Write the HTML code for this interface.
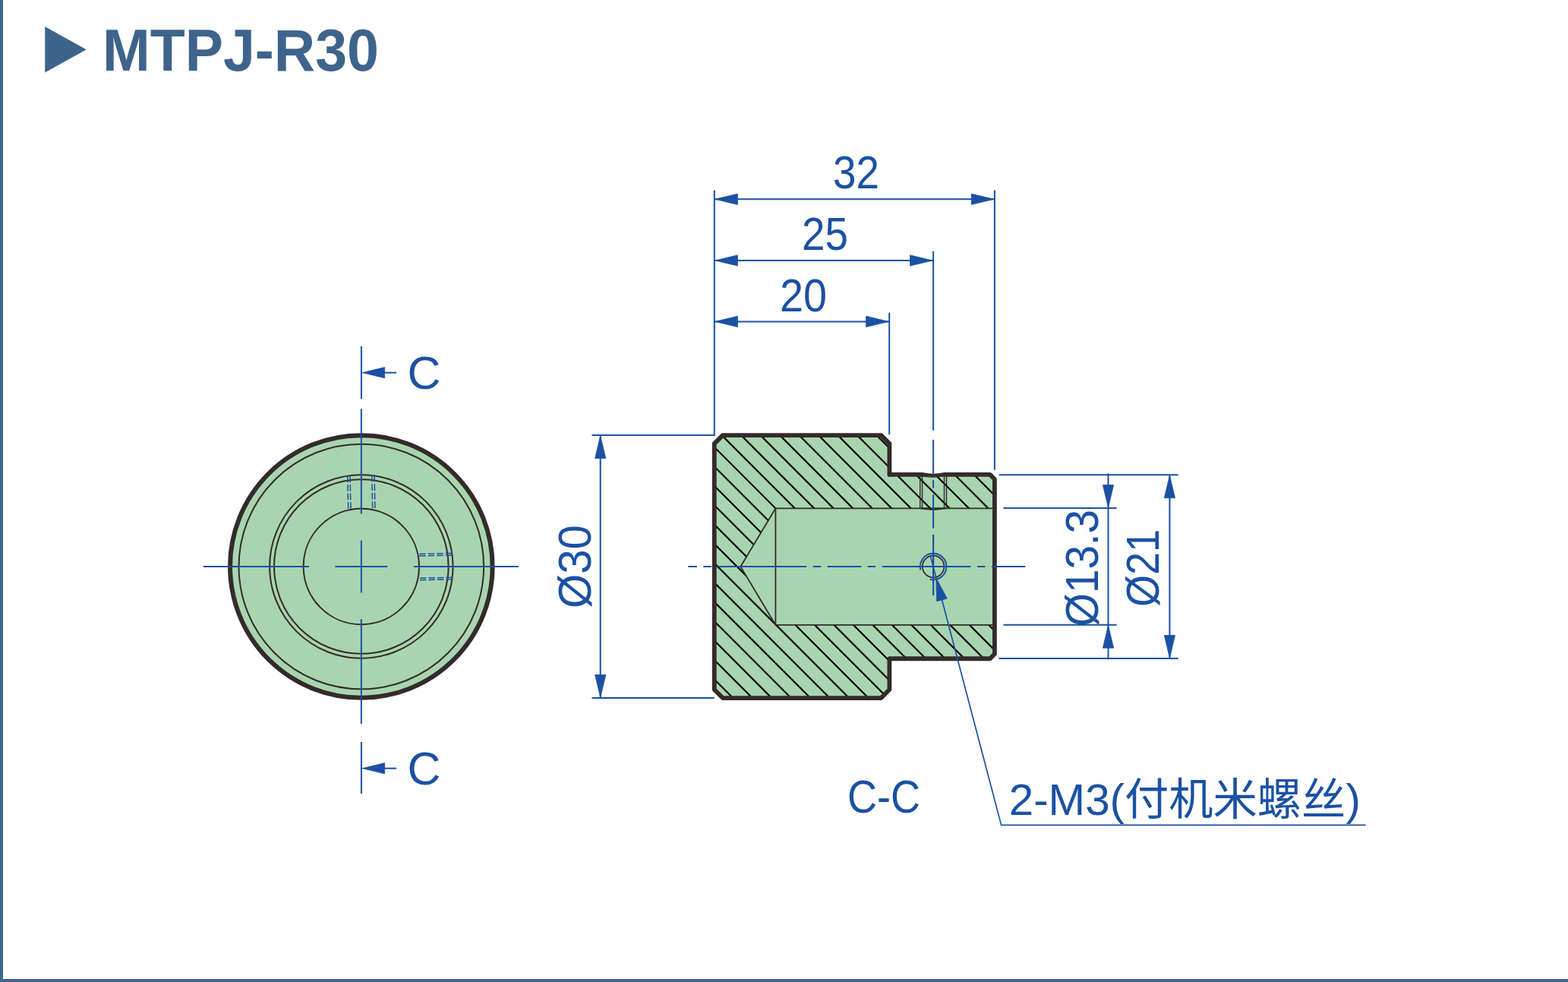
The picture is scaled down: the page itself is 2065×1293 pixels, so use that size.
<!DOCTYPE html>
<html lang="zh">
<head>
<meta charset="utf-8">
<title>MTPJ-R30</title>
<style>
html,body{margin:0;padding:0;background:#fff;font-family:"Liberation Sans",sans-serif;}
#page{position:relative;width:2065px;height:1293px;overflow:hidden;background:#fff;box-sizing:border-box;
border-left:4px solid #3f658c;border-bottom:4px solid #3f658c;}
#page svg{position:absolute;left:-4px;top:0;display:block;}
#page svg text{font-family:"Liberation Sans","Noto Sans CJK SC",sans-serif;}
</style>
</head>
<body>
<div id="page">
<svg width="2065" height="1293" viewBox="0 0 2065 1293" role="img" aria-label="MTPJ-R30 technical drawing">
<title>MTPJ-R30</title>
<desc>MTPJ-R30 dimensional drawing. Front view with section line C / C. Section C-C with dimensions 32, 25, 20, Ø30, Ø13.3, Ø21 and note 2-M3(付机米螺丝).</desc>
<polygon points="59.2,35.0 113.7,65.2 59.2,95.5" fill="#3f648c"/>
<text x="135" y="92.85" font-size="77" font-weight="bold" fill="#3f648c" textLength="364" lengthAdjust="spacingAndGlyphs">MTPJ-R30</text>
<circle cx="475.8" cy="746.0" r="172.8" fill="#a8d5b0" stroke="#332b2a" stroke-width="6"/>
<circle cx="475.8" cy="746.0" r="161.3" fill="none" stroke="#332b2a" stroke-width="2"/>
<circle cx="475.8" cy="746.0" r="120.7" fill="none" stroke="#332b2a" stroke-width="2"/>
<circle cx="475.8" cy="746.0" r="114.8" fill="none" stroke="#332b2a" stroke-width="2"/>
<circle cx="475.8" cy="746.0" r="76.2" fill="none" stroke="#332b2a" stroke-width="2"/>
<g transform="rotate(-1.3 475.85 648.5)">
<line x1="458.2" y1="626.2" x2="458.2" y2="670.8" stroke="#1b51a3" stroke-width="1.5" stroke-dasharray="8.6 2.9" fill="none"/>
<line x1="461.5" y1="626.2" x2="461.5" y2="670.8" stroke="#1b51a3" stroke-width="1.5" stroke-dasharray="8.6 2.9" fill="none"/>
<line x1="490.2" y1="626.2" x2="490.2" y2="670.8" stroke="#1b51a3" stroke-width="1.5" stroke-dasharray="8.6 2.9" fill="none"/>
<line x1="493.5" y1="626.2" x2="493.5" y2="670.8" stroke="#1b51a3" stroke-width="1.5" stroke-dasharray="8.6 2.9" fill="none"/>
</g>
<g transform="rotate(-1.3 574.6 746.1)">
<line x1="552.5" y1="728.9" x2="596.8" y2="728.9" stroke="#1b51a3" stroke-width="1.5" stroke-dasharray="8.6 2.9" fill="none"/>
<line x1="552.5" y1="731.5" x2="596.8" y2="731.5" stroke="#1b51a3" stroke-width="1.5" stroke-dasharray="8.6 2.9" fill="none"/>
<line x1="552.5" y1="760.7" x2="596.8" y2="760.7" stroke="#1b51a3" stroke-width="1.5" stroke-dasharray="8.6 2.9" fill="none"/>
<line x1="552.5" y1="763.3" x2="596.8" y2="763.3" stroke="#1b51a3" stroke-width="1.5" stroke-dasharray="8.6 2.9" fill="none"/>
</g>
<line x1="475.8" y1="538.3" x2="475.8" y2="676.6" stroke="#1b51a3" stroke-width="2" fill="none"/>
<line x1="475.8" y1="711.6" x2="475.8" y2="780.4" stroke="#1b51a3" stroke-width="2" fill="none"/>
<line x1="475.8" y1="815.3" x2="475.8" y2="953.0" stroke="#1b51a3" stroke-width="2" fill="none"/>
<line x1="267.8" y1="746.0" x2="406.9" y2="746.0" stroke="#1b51a3" stroke-width="2" fill="none"/>
<line x1="441.4" y1="746.0" x2="510.3" y2="746.0" stroke="#1b51a3" stroke-width="2" fill="none"/>
<line x1="545.0" y1="746.0" x2="683.0" y2="746.0" stroke="#1b51a3" stroke-width="2" fill="none"/>
<line x1="475.9" y1="455.9" x2="475.9" y2="525.3" stroke="#1b51a3" stroke-width="2"/>
<line x1="500" y1="490.7" x2="522" y2="490.7" stroke="#1b51a3" stroke-width="2"/>
<polygon points="477.2,490.7 506.6,483.59999999999997 506.6,497.8" fill="#1b51a3" stroke="#1b51a3" stroke-width="0.8" stroke-linejoin="round"/>
<text x="558.6" y="512" font-size="61" fill="#1b51a3" text-anchor="middle">C</text>
<line x1="475.9" y1="977.0" x2="475.9" y2="1045.3" stroke="#1b51a3" stroke-width="2"/>
<line x1="500" y1="1011.7" x2="522" y2="1011.7" stroke="#1b51a3" stroke-width="2"/>
<polygon points="477.2,1011.7 506.6,1004.6 506.6,1018.8000000000001" fill="#1b51a3" stroke="#1b51a3" stroke-width="0.8" stroke-linejoin="round"/>
<text x="558.6" y="1033" font-size="61" fill="#1b51a3" text-anchor="middle">C</text>
<polygon points="951.75,573.1 1160.4,573.1 1171.4,584.1 1171.4,624.9 1303.8000000000002,624.9 1309.9,631.0 1309.9,861.15 1303.8000000000002,867.25 1171.4,867.25 1171.4,908.05 1160.4,919.05 951.75,919.05 940.75,908.05 940.75,584.1" fill="#a8d5b0"/>
<clipPath id="hc"><path clip-rule="evenodd" d="M951.75 573.1 L1160.4 573.1 L1171.4 584.1 L1171.4 624.9 L1303.8000000000002 624.9 L1309.9 631.0 L1309.9 861.15 L1303.8000000000002 867.25 L1171.4 867.25 L1171.4 908.05 L1160.4 919.05 L951.75 919.05 L940.75 908.05 L940.75 584.1 Z M1309.9 669.3 L1021.4 669.3 L975.3 746.0 L1021.4 822.8 L1309.9 822.8 Z"/></clipPath>
<path d="M930 909.2 L1320 1299.2 M930 883.73 L1320 1273.72 M930 858.25 L1320 1248.25 M930 832.78 L1320 1222.78 M930 807.3 L1320 1197.3 M930 781.83 L1320 1171.83 M930 756.35 L1320 1146.35 M930 730.88 L1320 1120.88 M930 705.4 L1320 1095.4 M930 679.92 L1320 1069.92 M930 654.45 L1320 1044.45 M930 628.98 L1320 1018.98 M930 603.5 L1320 993.5 M930 578.03 L1320 968.03 M930 552.55 L1320 942.55 M930 527.08 L1320 917.08 M930 501.6 L1320 891.6 M930 476.12 L1320 866.12 M930 450.65 L1320 840.65 M930 425.18 L1320 815.17 M930 399.7 L1320 789.7 M930 374.23 L1320 764.23 M930 348.75 L1320 738.75 M930 323.27 L1320 713.27 M930 297.8 L1320 687.8 M930 272.33 L1320 662.33 M930 246.85 L1320 636.85 M930 221.38 L1320 611.38 M930 195.9 L1320 585.9 M930 170.42 L1320 560.42" stroke="#070303" stroke-width="2.2" fill="none" clip-path="url(#hc)"/>
<path d="M1309.9 669.3 L1021.4 669.3 L975.3 746 L1021.4 822.8 L1309.9 822.8 M1021.4 669.3 L1021.4 822.8" stroke="#332b2a" stroke-width="1.8" fill="none" stroke-linejoin="miter"/>
<rect x="1211.6" y="627" width="3.1" height="42.3" fill="#332b2a" fill-opacity="0.22"/>
<line x1="1211.6" y1="627" x2="1211.6" y2="669.3" stroke="#332b2a" stroke-width="1.2"/>
<line x1="1214.7" y1="627" x2="1214.7" y2="669.3" stroke="#332b2a" stroke-width="1.2"/>
<rect x="1243.4" y="627" width="3.2" height="42.3" fill="#332b2a" fill-opacity="0.22"/>
<line x1="1243.4" y1="627" x2="1243.4" y2="669.3" stroke="#332b2a" stroke-width="1.2"/>
<line x1="1246.6" y1="627" x2="1246.6" y2="669.3" stroke="#332b2a" stroke-width="1.2"/>
<path d="M1211.6 669.3 Q1229.1 672.9 1246.6 669.3 Z" fill="#332b2a" stroke="#332b2a" stroke-width="1.6" stroke-linejoin="round"/>
<polygon points="951.75,573.1 1160.4,573.1 1171.4,584.1 1171.4,624.9 1303.8000000000002,624.9 1309.9,631.0 1309.9,861.15 1303.8000000000002,867.25 1171.4,867.25 1171.4,908.05 1160.4,919.05 951.75,919.05 940.75,908.05 940.75,584.1" fill="none" stroke="#332b2a" stroke-width="5.8" stroke-linejoin="round"/>
<path d="M1214.7 621.9 Q1229.1 625.5 1243.4 621.9 Z" fill="#fff"/>
<path d="M1214.7 627.6 Q1229.1 630.1 1243.4 627.6 Z" fill="#332b2a"/>
<circle cx="1229.1" cy="746.0" r="14.3" fill="none" stroke="#332b2a" stroke-width="1.7"/>
<path d="M1212.39 750.48 A17.3 17.3 0 1 1 1224.68 762.73" stroke="#1b51a3" stroke-width="2" fill="none"/>
<line x1="906.3" y1="746" x2="1350.3" y2="746" stroke="#1b51a3" stroke-width="2" fill="none" stroke-dasharray="44.5 8.5 10.5 8.6" stroke-dashoffset="32.9"/>
<line x1="988" y1="746" x2="1019" y2="746" stroke="#1b51a3" stroke-width="2" fill="none"/>
<line x1="1191" y1="746" x2="1267" y2="746" stroke="#1b51a3" stroke-width="2" fill="none"/>
<line x1="1229.1" y1="579.0" x2="1229.1" y2="784.0" stroke="#1b51a3" stroke-width="2" fill="none" stroke-dasharray="44.5 8.5 10.5 8.6"/>
<line x1="1229.1" y1="704.8" x2="1229.1" y2="784.0" stroke="#1b51a3" stroke-width="2" fill="none"/>
<path d="M940.8 250.4 V573.1 H779.5" stroke="#1b51a3" stroke-width="2" fill="none"/>
<line x1="1309.9" y1="250.4" x2="1309.9" y2="618.8" stroke="#1b51a3" stroke-width="2" fill="none"/>
<line x1="1229.1" y1="331" x2="1229.1" y2="566.7" stroke="#1b51a3" stroke-width="2" fill="none"/>
<line x1="1171.2" y1="411.7" x2="1171.2" y2="572.2" stroke="#1b51a3" stroke-width="2" fill="none"/>
<line x1="940.8" y1="262.3" x2="1309.9" y2="262.3" stroke="#1b51a3" stroke-width="2" fill="none"/>
<polygon points="941.6,262.3 971.4,255.2 971.4,269.4" fill="#1b51a3" stroke="#1b51a3" stroke-width="0.8" stroke-linejoin="round"/>
<polygon points="1309.1,262.3 1279.3,269.4 1279.3,255.2" fill="#1b51a3" stroke="#1b51a3" stroke-width="0.8" stroke-linejoin="round"/>
<text x="1127.5" y="248" font-size="61" fill="#1b51a3" text-anchor="middle" textLength="61" lengthAdjust="spacingAndGlyphs">32</text>
<line x1="940.8" y1="343.0" x2="1229.1" y2="343.0" stroke="#1b51a3" stroke-width="2" fill="none"/>
<polygon points="941.6,343 971.4,335.9 971.4,350.1" fill="#1b51a3" stroke="#1b51a3" stroke-width="0.8" stroke-linejoin="round"/>
<polygon points="1228.3,343 1198.5,350.1 1198.5,335.9" fill="#1b51a3" stroke="#1b51a3" stroke-width="0.8" stroke-linejoin="round"/>
<text x="1086.5" y="329" font-size="61" fill="#1b51a3" text-anchor="middle" textLength="61" lengthAdjust="spacingAndGlyphs">25</text>
<line x1="940.8" y1="423.4" x2="1171.2" y2="423.4" stroke="#1b51a3" stroke-width="2" fill="none"/>
<polygon points="941.6,423.4 971.4,416.3 971.4,430.5" fill="#1b51a3" stroke="#1b51a3" stroke-width="0.8" stroke-linejoin="round"/>
<polygon points="1170.4,423.4 1140.6,430.5 1140.6,416.3" fill="#1b51a3" stroke="#1b51a3" stroke-width="0.8" stroke-linejoin="round"/>
<text x="1058" y="410" font-size="61" fill="#1b51a3" text-anchor="middle" textLength="62" lengthAdjust="spacingAndGlyphs">20</text>
<line x1="779.5" y1="919.0" x2="940.8" y2="919.0" stroke="#1b51a3" stroke-width="2" fill="none"/>
<line x1="790.7" y1="573.1" x2="790.7" y2="919.0" stroke="#1b51a3" stroke-width="2" fill="none"/>
<polygon points="790.7,573.8 797.8,603.6 783.6,603.6" fill="#1b51a3" stroke="#1b51a3" stroke-width="0.8" stroke-linejoin="round"/>
<polygon points="790.7,918.3 783.6,888.5 797.8,888.5" fill="#1b51a3" stroke="#1b51a3" stroke-width="0.8" stroke-linejoin="round"/>
<text x="-801" y="777.5" font-size="61" fill="#1b51a3" transform="rotate(-90)" textLength="110" lengthAdjust="spacingAndGlyphs">Ø30</text>
<line x1="1315.5" y1="625.2" x2="1551.8" y2="625.2" stroke="#1b51a3" stroke-width="2" fill="none"/>
<line x1="1315.5" y1="867.0" x2="1551.8" y2="867.0" stroke="#1b51a3" stroke-width="2" fill="none"/>
<line x1="1540.4" y1="625.2" x2="1540.4" y2="867.0" stroke="#1b51a3" stroke-width="2" fill="none"/>
<polygon points="1540.4,625.9 1547.5,655.7 1533.3,655.7" fill="#1b51a3" stroke="#1b51a3" stroke-width="0.8" stroke-linejoin="round"/>
<polygon points="1540.4,866.3 1533.3,836.5 1547.5,836.5" fill="#1b51a3" stroke="#1b51a3" stroke-width="0.8" stroke-linejoin="round"/>
<text x="-799" y="1526.4" font-size="61" fill="#1b51a3" transform="rotate(-90)" textLength="102" lengthAdjust="spacingAndGlyphs">Ø21</text>
<line x1="1321.5" y1="669.1" x2="1470.6" y2="669.1" stroke="#1b51a3" stroke-width="2" fill="none"/>
<line x1="1321.5" y1="822.7" x2="1470.6" y2="822.7" stroke="#1b51a3" stroke-width="2" fill="none"/>
<line x1="1459.5" y1="623.3" x2="1459.5" y2="868.3" stroke="#1b51a3" stroke-width="2" fill="none"/>
<polygon points="1459.5,668.4 1452.4,638.6 1466.6,638.6" fill="#1b51a3" stroke="#1b51a3" stroke-width="0.8" stroke-linejoin="round"/>
<polygon points="1459.5,823.4 1466.6,853.2 1452.4,853.2" fill="#1b51a3" stroke="#1b51a3" stroke-width="0.8" stroke-linejoin="round"/>
<text x="-825" y="1446.3" font-size="61" fill="#1b51a3" transform="rotate(-90)" textLength="154" lengthAdjust="spacingAndGlyphs">Ø13.3</text>
<path d="M1225.3 732.1 L1318.6 1086.4 H1798.5" stroke="#1b51a3" stroke-width="1.7" fill="none" stroke-linejoin="round"/>
<polygon points="1232.9,761.1 1247.35,788.11 1233.62,791.73" fill="#1b51a3" stroke="#1b51a3" stroke-width="0.8" stroke-linejoin="round"/>
<text x="1328.8" y="1073" font-size="58" fill="#1b51a3" textLength="463" lengthAdjust="spacingAndGlyphs">2-M3(付机米螺丝)</text>
<text x="1164" y="1070" font-size="61" fill="#1b51a3" text-anchor="middle" textLength="96" lengthAdjust="spacingAndGlyphs">C-C</text>
</svg>
</div>
</body>
</html>
